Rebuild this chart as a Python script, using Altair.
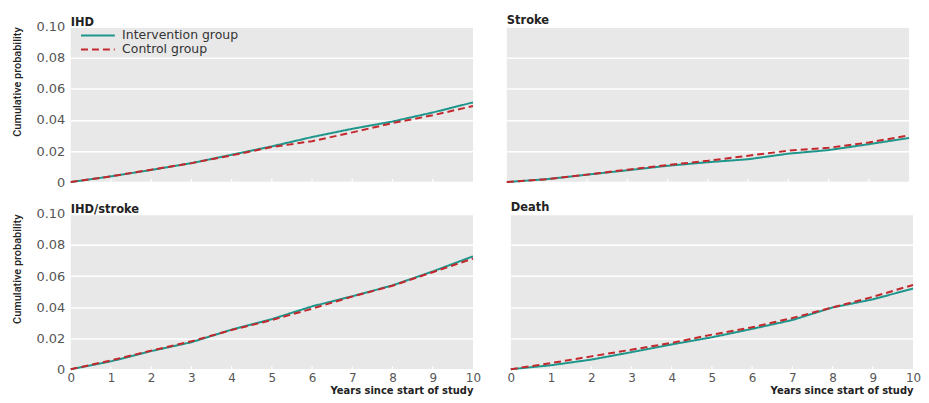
import altair as alt
import pandas as pd

years = [0, 1, 2, 3, 4, 5, 6, 7, 8, 9, 10]
groups = ["Intervention group", "Control group"]
y_ticks = [0, 0.02, 0.04, 0.06, 0.08, 0.10]
inner_ticks = [1, 2, 3, 4, 5, 6, 7, 8, 9]

ihd_int = [0, 0.0037, 0.0078, 0.0122, 0.0176, 0.0230, 0.0290, 0.0343, 0.0390, 0.0448, 0.0513]
ihd_ctl = [0, 0.0037, 0.0080, 0.0122, 0.0172, 0.0226, 0.0263, 0.0320, 0.0380, 0.0430, 0.0490]

stroke_int = [0, 0.0019, 0.0048, 0.0076, 0.0105, 0.0128, 0.0147, 0.0183, 0.0206, 0.0244, 0.0284]
stroke_ctl = [0, 0.0019, 0.0048, 0.0080, 0.0110, 0.0137, 0.0170, 0.0202, 0.0221, 0.0255, 0.0301]

ihdstroke_int = [0, 0.0051, 0.0117, 0.0174, 0.0255, 0.0323, 0.0405, 0.0470, 0.0540, 0.0630, 0.0727]
ihdstroke_ctl = [0, 0.0057, 0.0120, 0.0180, 0.0253, 0.0317, 0.0390, 0.0468, 0.0538, 0.0625, 0.0713]

death_int = [0, 0.0026, 0.0062, 0.0110, 0.0160, 0.0206, 0.0260, 0.0317, 0.0398, 0.0450, 0.0520]
death_ctl = [0, 0.0040, 0.0083, 0.0126, 0.0170, 0.0223, 0.0270, 0.0330, 0.0398, 0.0466, 0.0543]

TEAL = "#1f968b"
RED = "#c3282d"
W, H = 404, 156
FONT = "DejaVu Sans"


def panel(name, intv, ctrl, left, bottom, legend):
    df = pd.DataFrame({
        "year": years + years,
        "value": intv + ctrl,
        "group": [groups[0]] * len(years) + [groups[1]] * len(years),
    })
    if left:
        yaxis = alt.Axis(
            values=y_ticks,
            labelExpr="datum.value == 0 ? '0' : format(datum.value, '.2f')",
            labelFont=FONT, labelFontSize=13, labelColor="#555",
            labelPadding=6, labelFlush=False,
            ticks=False, domain=False, grid=True,
            title="Cumulative probability", titleFont="Roboto",
            titleFontSize=11, titleFontWeight=500, titleColor="#222",
            titleAnchor="end", titlePadding=13,
        )
    else:
        yaxis = alt.Axis(values=y_ticks, labels=False, ticks=False, domain=False,
                         grid=True, title=None)
    if bottom:
        xaxis = alt.Axis(
            values=years, format="d", labelFont=FONT, labelFontSize=12,
            labelColor="#555", labelPadding=3, labelFlush=False,
            ticks=False, domain=False, grid=False,
            title="Years since start of study", titleFont=FONT, titleFontSize=10,
            titleFontWeight="bold", titleColor="#222", titleAnchor="end",
            titlePadding=2,
        )
    else:
        xaxis = None
    if legend:
        leg = alt.Legend(
            orient="none", legendX=20.3, legendY=1.75, title=None,
            symbolType="M-3,0H3", symbolSize=128,
            symbolStrokeWidth=2, labelFont=FONT, labelFontSize=12.5,
            labelColor="#333", padding=0, rowPadding=0, labelOffset=17.3,
            symbolOffset=0,
        )
    else:
        leg = None
    xscale = alt.Scale(domain=[0, 10], nice=False)
    color = alt.Color("group:N", scale=alt.Scale(domain=groups, range=[TEAL, RED]), legend=leg)
    dash = alt.StrokeDash("group:N", scale=alt.Scale(domain=groups, range=[[1, 0], [7, 4]]), legend=leg)
    lines = alt.Chart(df).mark_line(strokeWidth=2).encode(
        x=alt.X("year:Q", scale=xscale, axis=xaxis),
        y=alt.Y("value:Q", scale=alt.Scale(domain=[0, 0.1], nice=False), axis=yaxis),
        color=color,
        strokeDash=dash,
    )
    tk = alt.Chart(pd.DataFrame({"year": inner_ticks})).mark_rule(
        color="white", strokeWidth=1.2
    ).encode(
        x=alt.X("year:Q", scale=xscale, axis=xaxis),
        y=alt.value(H - 3), y2=alt.value(H),
    )
    title = alt.TitleParams(name, anchor="start", frame="group", font=FONT,
                            fontSize=11.5, fontWeight="bold", color="#222",
                            offset=(-7.5 if left else 0))
    return alt.layer(tk, lines).properties(width=W, height=H, title=title)


tl = panel("IHD", ihd_int, ihd_ctl, True, False, True)
tr = panel("Stroke", stroke_int, stroke_ctl, False, False, False)
bl = panel("IHD/stroke", ihdstroke_int, ihdstroke_ctl, True, True, False)
br = panel("Death", death_int, death_ctl, False, True, False)

chart = alt.vconcat(
    alt.hconcat(tl, tr, spacing=26).resolve_legend(color="independent", strokeDash="independent"),
    alt.hconcat(bl, br, spacing=26).resolve_legend(color="independent", strokeDash="independent"),
    spacing=13,
).resolve_legend(color="independent", strokeDash="independent").properties(
    padding={"left": 4, "top": 6, "right": 0, "bottom": 0}, background="white"
).configure_view(fill="#e8e8e8", stroke=None).configure_axis(
    gridColor="white", gridWidth=1.5
)

chart.save("out.html", embed_options={"renderer": "svg", "actions": False})
